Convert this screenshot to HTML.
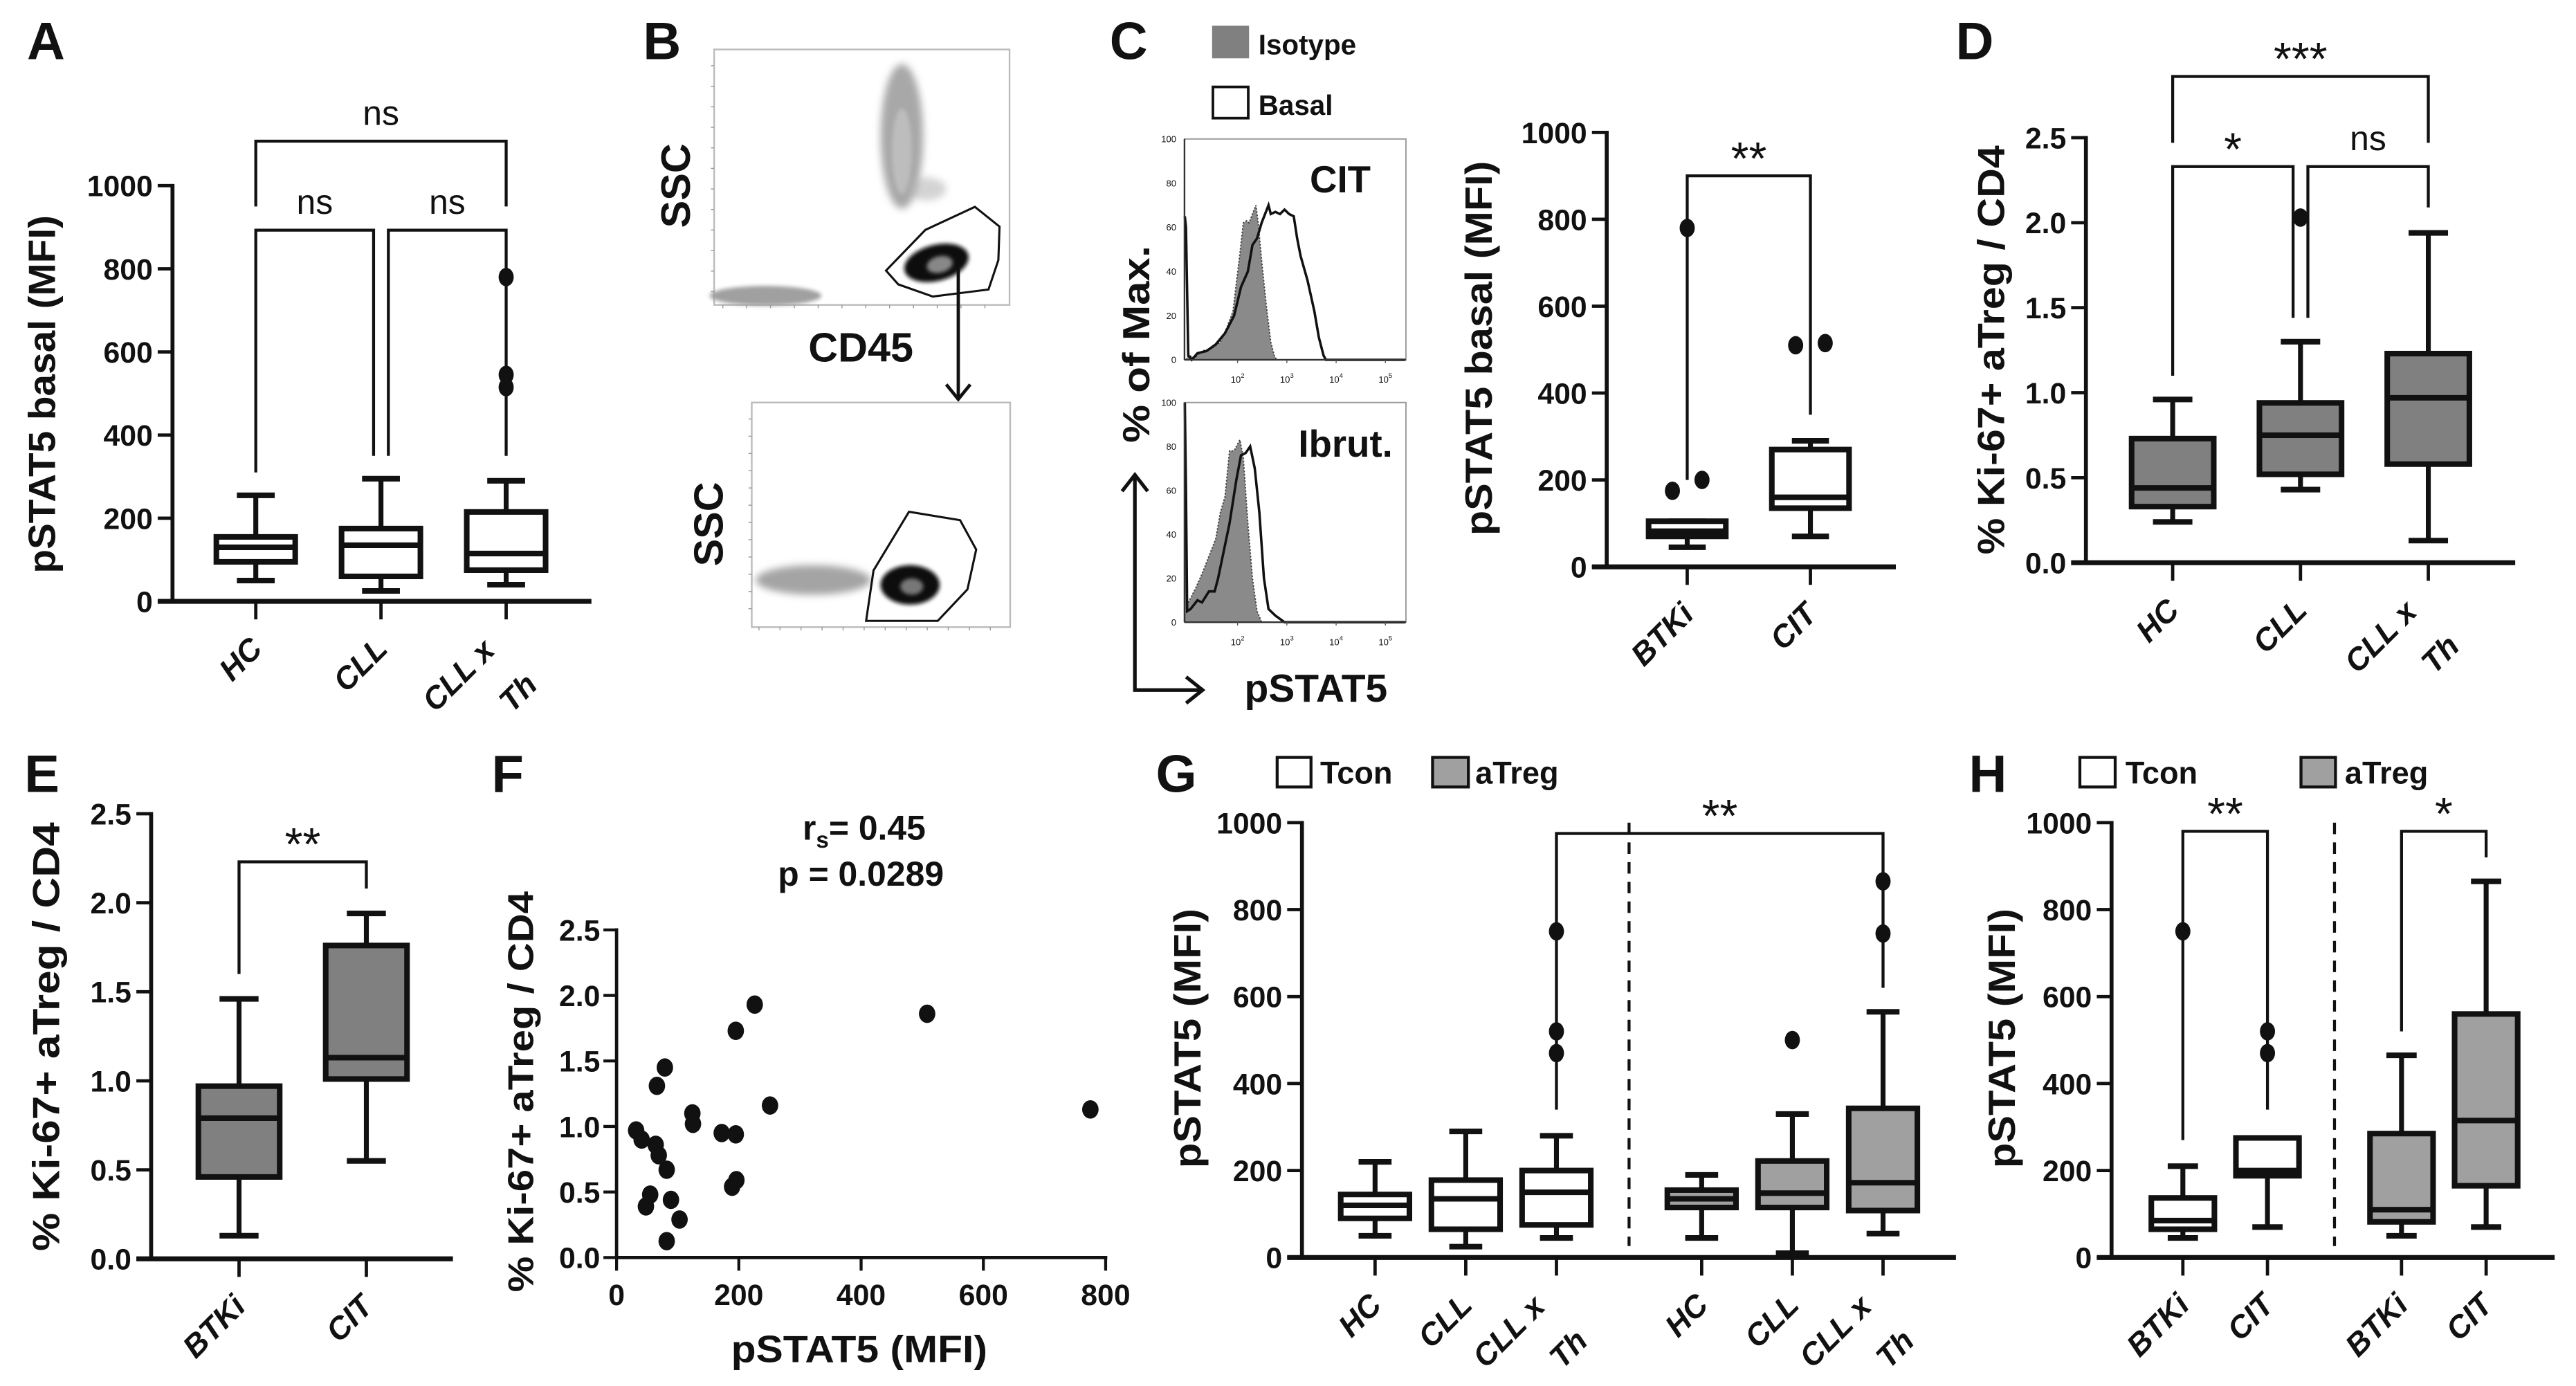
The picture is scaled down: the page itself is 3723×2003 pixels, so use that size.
<!DOCTYPE html>
<html><head><meta charset="utf-8"><title>pSTAT5 figure</title>
<style>
html,body{margin:0;padding:0;background:#fff;}
svg{display:block;}
text{font-family:"Liberation Sans",Arial,sans-serif;fill:#111;}
</style></head>
<body>
<svg id="fig" xmlns="http://www.w3.org/2000/svg" width="3723" height="2003" viewBox="0 0 1568 843.6" preserveAspectRatio="none">
<rect x="0" y="0" width="1568" height="843.6" fill="#fff"/>
</svg>
<script>
// ---------- Panel A data ----------
const aTicks=[0,200,400,600,800,1000];
const aCats=["HC","CLL","CLL x|Th"];
const aMin=[50,25,40];
const aQ1=[95,60,75];
const aMed=[130,135,115];
const aQ3=[155,175,215];
const aMax=[255,295,290];
const aOut=[[],[],[780,545,515]];
const aBrL=[0,0,1], aBrR=[2,1,2], aBrY=[1107,893,893], aBrLegL=[950,310,350], aBrLegR=[950,350,350], aBrTxt=["ns","ns","ns"];
// ---------- Panel C (bar) data ----------
const cTicks=[0,200,400,600,800,1000];
const cCats=["BTKi","CIT"];
const cMin=[45,70];
const cQ1=[70,135];
const cMed=[82,160];
const cQ3=[105,270];
const cMax=[105,290];
const cOut=[[780,175,200],[510,515]];
const cBrL=[0], cBrR=[1], cBrY=[900], cBrLegL=[200], cBrLegR=[350], cBrTxt=["**"];
// ---------- Panel C histograms (decade, % of max) ----------
const hTopIsoD=[0.953,1.0,1.14,1.279,1.465,1.651,1.791,1.907,1.977,2.047,2.116,2.186,2.233,2.302,2.372,2.419,2.488,2.581,2.674,2.744,2.791];
const hTopIsoP=[0,2,1,4,5,8,15,22,35,48,62,63,62,66,70,62,45,25,8,2,0];
const hTopBasD=[0.93,0.953,1.0,1.07,1.186,1.372,1.558,1.744,1.93,2.07,2.209,2.302,2.395,2.488,2.628,2.674,2.767,2.86,2.953,3.047,3.14,3.209,3.279,3.419,3.558,3.651,3.744,3.791,5.4];
const hTopBasP=[65,60,2,0,3,4,7,12,20,33,40,52,55,62,70,66,67,66,68,66,65,55,47,36,22,10,2,0,0];
const hBotIsoD=[0.93,0.953,0.977,1.14,1.279,1.419,1.558,1.651,1.744,1.837,1.93,2.047,2.116,2.209,2.302,2.395,2.488];
const hBotIsoP=[100,60,8,15,22,30,38,50,57,78,78,83,75,45,20,5,0];
const hBotBasD=[0.93,0.953,0.977,1.047,1.186,1.279,1.419,1.535,1.605,1.698,1.837,1.977,2.07,2.163,2.256,2.349,2.442,2.535,2.628,2.767,2.953,5.4];
const hBotBasP=[100,60,5,6,10,9,14,14,20,30,45,65,76,77,80,70,50,20,6,3,0,0];
const hYTicks=[0,20,40,60,80,100];
const hXTicks=[2,3,4,5];
// ---------- Panel D data ----------
const dTicks=[0,0.5,1.0,1.5,2.0,2.5];
const dCats=["HC","CLL","CLL x|Th"];
const dMin=[0.24,0.43,0.13];
const dQ1=[0.33,0.52,0.58];
const dMed=[0.44,0.75,0.97];
const dQ3=[0.73,0.94,1.23];
const dMax=[0.96,1.30,1.94];
const dOut=[[],[2.03],[]];
const dBrL=[0,0,1], dBrR=[2,1,2], dBrY=[2.86,2.33,2.33], dBrLegL=[2.47,1.10,1.44], dBrLegR=[2.47,1.44,2.09], dBrTxt=["***","*","ns"];
// ---------- Panel E data ----------
const eTicks=[0,0.5,1.0,1.5,2.0,2.5];
const eCats=["BTKi","CIT"];
const eMin=[0.13,0.55];
const eQ1=[0.46,1.01];
const eMed=[0.79,1.13];
const eQ3=[0.97,1.76];
const eMax=[1.46,1.94];
const eOut=[[],[]];
const eBrL=[0], eBrR=[1], eBrY=[2.23], eBrLegL=[1.6], eBrLegR=[2.08], eBrTxt=["**"];
// ---------- Panel F data ----------
const fXTicks=[0,200,400,600,800];
const fYTicks=[0,0.5,1.0,1.5,2.0,2.5];
const fX=[32,41,64,69,82,66,79,55,48,89,103,82,124,125,172,195,195,226,251,189,196,508,775];
const fY=[0.97,0.90,0.86,0.78,0.67,1.31,1.45,0.48,0.39,0.44,0.29,0.125,1.10,1.02,0.95,0.94,1.73,1.93,1.16,0.54,0.59,1.86,1.13];
// ---------- Panel G data ----------
const gTicks=[0,200,400,600,800,1000];
const gCats=["HC","CLL","CLL x|Th","HC","CLL","CLL x|Th"];
const gMin=[50,25,45,45,10,55];
const gQ1=[90,65,75,115,115,108];
const gMed=[120,135,150,135,148,172];
const gQ3=[145,178,200,155,222,343];
const gMax=[220,290,280,190,330,565];
const gOut=[[],[],[750,520,470],[],[500],[865,745]];
const gBrL=[2], gBrR=[5], gBrY=[975], gBrLegL=[340], gBrLegR=[620], gBrTxt=["**"];
// ---------- Panel H data ----------
const hTicks=[0,200,400,600,800,1000];
const hCats=["BTKi","CIT","BTKi","CIT"];
const hMin=[45,70,50,70];
const hQ1=[65,188,82,165];
const hMed=[85,200,110,315];
const hQ3=[137,275,285,560];
const hMax=[210,275,465,865];
const hOut=[[750],[520,470],[],[]];
const hBrL=[0,2], hBrR=[1,3], hBrY=[980,980], hBrLegL=[270,520], hBrLegR=[340,920], hBrTxt=["**","*"];

const NS="http://www.w3.org/2000/svg";
const svg=document.getElementById('fig');
function mk(parent,tag,attrs,name,inter){
  const el=document.createElementNS(NS,tag);
  for(const k in attrs) el.setAttribute(k,attrs[k]);
  
  
  parent.appendChild(el); return el;
}
function txt(parent,x,y,s,o,name){
  o=o||{};
  const a={x:x,y:y,'font-size':o.fs||18,'font-weight':o.fw||'bold','text-anchor':o.anchor||'start'};
  if(o.tr) a.transform=o.tr;
  if(o.len){a.textLength=o.len;a.lengthAdjust='spacingAndGlyphs';}
  if(o.style) a['font-style']=o.style;
  if(o.fill) a.fill=o.fill;
  const t=mk(parent,'text',a,name,false);
  t.textContent=s; return t;
}
function ylabel(parent,cx,cy,s,len,fs,name){
  txt(parent,0,0,s,{fs:fs||23,anchor:'middle',len:len,tr:'translate('+(cx+8)+','+cy+') rotate(-90)'},name);
}
function letter(s,x,y){ txt(svg,x,y,s,{fs:32,anchor:'middle'},'panel-label-'+s.toLowerCase()); }

function boxPanel(cfg){
  const g=mk(svg,'g',{},cfg.name,false);
  const span=cfg.vmax-cfg.vmin;
  const yv=v=>cfg.y0-(v-cfg.vmin)/span*(cfg.y0-cfg.ytop);
  const xp=i=>cfg.first+i*cfg.step+(cfg.split!==undefined&&i>=cfg.split?cfg.gap:0);
  mk(g,'line',{x1:cfg.ax,y1:cfg.y0,x2:cfg.ax,y2:yv(cfg.ticks[cfg.ticks.length-1])-1,stroke:'#111','stroke-width':2.4},'y-axis',false);
  mk(g,'line',{x1:cfg.ax-9,y1:cfg.y0,x2:cfg.xEnd,y2:cfg.y0,stroke:'#111','stroke-width':3},'x-axis',false);
  cfg.ticks.forEach(function(t){
    const y=yv(t);
    mk(g,'line',{x1:cfg.ax-9,y1:y,x2:cfg.ax,y2:y,stroke:'#111','stroke-width':2},'y-tick',false);
    txt(g,cfg.ax-12,y+6.5,cfg.dec?t.toFixed(1):String(t),{fs:18,anchor:'end'},'y-tick-label');
  });
  if(cfg.dash){
    const dx=(xp(cfg.split-1)+xp(cfg.split))/2;
    mk(g,'line',{x1:dx,y1:cfg.ytop,x2:dx,y2:cfg.y0-7,stroke:'#111','stroke-width':1.8,'stroke-dasharray':'7 5'},'group-separator',false);
  }
  const br=cfg.br;
  for(let k=0;k<br.L.length;k++){
    let xl=xp(br.L[k]), xr=xp(br.R[k]);
    for(let m=0;m<br.L.length;m++){ if(m===k) continue;
      if(br.Y[m]===br.Y[k]){ if(br.L[m]===br.R[k]) xr-=4.5; if(br.R[m]===br.L[k]) xl+=4.5; } }
    const yb=yv(br.Y[k]);
    mk(g,'polyline',{points:xl+','+yv(br.LL[k])+' '+xl+','+yb+' '+xr+','+yb+' '+xr+','+yv(br.LR[k]),fill:'none',stroke:'#111','stroke-width':1.8},'significance-bracket',false);
    const star=br.T[k].indexOf('*')>=0;
    txt(g,(xl+xr)/2,star?yb-1:yb-10,br.T[k],{fs:star?28:21,fw:'normal',anchor:'middle'},'significance-label');
  }
  for(let i=0;i<cfg.cats.length;i++){
    const x=xp(i), w=cfg.bw, cw=w*0.48;
    const fill=cfg.fills[i];
    mk(g,'line',{x1:x,y1:yv(cfg.min[i]),x2:x,y2:yv(cfg.max[i]),stroke:'#111','stroke-width':3},'whisker-'+i,false);
    mk(g,'line',{x1:x-cw/2,y1:yv(cfg.min[i]),x2:x+cw/2,y2:yv(cfg.min[i]),stroke:'#111','stroke-width':3.4},'whisker-cap-low',false);
    mk(g,'line',{x1:x-cw/2,y1:yv(cfg.max[i]),x2:x+cw/2,y2:yv(cfg.max[i]),stroke:'#111','stroke-width':3.4},'whisker-cap-high',false);
    mk(g,'rect',{x:x-w/2,y:yv(cfg.q3[i]),width:w,height:Math.max(0.5,yv(cfg.q1[i])-yv(cfg.q3[i])),fill:fill,stroke:'#111','stroke-width':3.4},'box-'+i,false);
    mk(g,'line',{x1:x-w/2,y1:yv(cfg.med[i]),x2:x+w/2,y2:yv(cfg.med[i]),stroke:'#111','stroke-width':3.4},'median-'+i,false);
    const o=cfg.out[i].slice().sort(function(a,b){return a-b;});
    const used=new Array(o.length).fill(false);
    for(let j=0;j<o.length;j++){
      let off=0;
      if(j+1<o.length && Math.abs(yv(o[j])-yv(o[j+1]))<7 && !used[j]){ off=-9; used[j+1]=true; }
      else if(used[j]) off=9;
      mk(g,'ellipse',{cx:x+off,cy:yv(o[j]),rx:4.6,ry:5.6,fill:'#111'},'outlier-point',false);
    }
    mk(g,'line',{x1:x,y1:cfg.y0,x2:x,y2:cfg.y0+11,stroke:'#111','stroke-width':2},'x-tick',false);
    const parts=cfg.cats[i].split('|');
    if(parts.length===1){
      txt(g,0,0,parts[0],{fs:19,anchor:'end',style:'italic',tr:'translate('+(x+5)+','+(cfg.y0+30)+') rotate(-45)'},'x-tick-label');
    } else {
      txt(g,0,0,parts[0],{fs:19,anchor:'end',style:'italic',tr:'translate('+(x-6)+','+(cfg.y0+31)+') rotate(-45)'},'x-tick-label');
      txt(g,0,0,parts[1],{fs:19,anchor:'end',style:'italic',tr:'translate('+(x+20)+','+(cfg.y0+52)+') rotate(-45)'},'x-tick-label-line2');
    }
  }
  return g;
}

// ---------- Panel A ----------
letter('A',28,36);
boxPanel({name:'panel-a-boxplot',ax:105,y0:366,ytop:113,vmin:0,vmax:1000,xEnd:360,first:155.7,step:76.2,bw:48,
  ticks:aTicks,cats:aCats,min:aMin,q1:aQ1,med:aMed,q3:aQ3,max:aMax,out:aOut,fills:['#fff','#fff','#fff'],
  br:{L:aBrL,R:aBrR,Y:aBrY,LL:aBrLegL,LR:aBrLegR,T:aBrTxt}});
ylabel(svg,25.5,240,'pSTAT5 basal (MFI)',218,23,'panel-a-y-axis-title');

// ---------- Panel B (flow plots) ----------
letter('B',403,36);
(function(){
  const g=mk(svg,'g',{},'panel-b-flow-plots',false);
  const defs=mk(g,'defs',{},'defs',false);
  const f=mk(defs,'filter',{id:'blur2',x:'-50%',y:'-50%',width:'200%',height:'200%'},'blur-filter',false);
  mk(f,'feGaussianBlur',{stdDeviation:2.2},'blur',false);
  const f2=mk(defs,'filter',{id:'blur1',x:'-50%',y:'-50%',width:'200%',height:'200%'},'blur-filter-small',false);
  mk(f2,'feGaussianBlur',{stdDeviation:1.2},'blur',false);
  mk(g,'rect',{x:434.7,y:30.1,width:179.8,height:155.5,fill:'#fff',stroke:'#bbb','stroke-width':1},'scatter-plot-top-frame',false);
  mk(g,'ellipse',{cx:549,cy:83,rx:13,ry:44,fill:'#a8a8a8',filter:'url(#blur2)'},'granulocyte-population',false);
  mk(g,'ellipse',{cx:549,cy:92,rx:6,ry:26,fill:'#bdbdbd',filter:'url(#blur1)'},'granulocyte-core',false);
  mk(g,'ellipse',{cx:564,cy:115,rx:12,ry:7,fill:'#b0b0b0',opacity:0.55,filter:'url(#blur2)'},'granulocyte-tail',false);
  mk(g,'ellipse',{cx:466,cy:180,rx:34,ry:6,fill:'#a0a0a0',filter:'url(#blur1)'},'debris-population',false);
  mk(g,'ellipse',{cx:570,cy:160,rx:20,ry:11,fill:'#111',transform:'rotate(-14 570 160)',filter:'url(#blur1)'},'lymphocyte-population',false);
  mk(g,'ellipse',{cx:572,cy:161,rx:8,ry:5,fill:'#888',transform:'rotate(-14 572 161)',filter:'url(#blur1)'},'lymphocyte-core',false);
  mk(g,'polygon',{points:'539.3,164.7 563.3,139.9 593.4,125.9 608.4,137.9 607.7,158.3 601.7,176.2 567.8,180.5 546.8,173.1',fill:'none',stroke:'#111','stroke-width':1.3},'cd45-gate',false);
  txt(g,0,0,'SSC',{fs:25,anchor:'middle',tr:'translate(420,113) rotate(-90)'},'ssc-axis-title-top');
  txt(g,524,220,'CD45',{fs:25,anchor:'middle'},'cd45-axis-title');
  mk(g,'line',{x1:583.3,y1:163,x2:583.3,y2:243,stroke:'#111','stroke-width':2},'gating-arrow',false);
  mk(g,'polyline',{points:'576,234 583.3,243 590.6,234',fill:'none',stroke:'#111','stroke-width':2},'gating-arrow-head',false);
  mk(g,'rect',{x:457.6,y:245,width:157.3,height:136.7,fill:'#fff',stroke:'#bbb','stroke-width':1},'scatter-plot-bottom-frame',false);
  mk(g,'ellipse',{cx:495,cy:353,rx:35,ry:9,fill:'#a4a4a4',filter:'url(#blur2)'},'non-lymphocyte-population',false);
  mk(g,'ellipse',{cx:554,cy:356,rx:18,ry:12,fill:'#111',filter:'url(#blur1)'},'gated-lymphocytes',false);
  mk(g,'ellipse',{cx:555,cy:357,rx:7,ry:5,fill:'#777',filter:'url(#blur1)'},'gated-lymphocytes-core',false);
  mk(g,'polygon',{points:'527.2,377.9 531.7,347.2 553.3,311.5 584.4,316.6 594.2,334.5 588.9,358.7 570.8,377.9',fill:'none',stroke:'#111','stroke-width':1.3},'lymphocyte-gate',false);
  txt(g,0,0,'SSC',{fs:25,anchor:'middle',tr:'translate(440,319) rotate(-90)'},'ssc-axis-title-bottom');
  for(let k=0;k<12;k++){
    mk(g,'line',{x1:434.7-2,y1:40+k*12.5,x2:434.7,y2:40+k*12.5,stroke:'#999','stroke-width':0.6},'minor-tick',false);
    mk(g,'line',{x1:457.6-2,y1:255+k*10.5,x2:457.6,y2:255+k*10.5,stroke:'#999','stroke-width':0.6},'minor-tick',false);
    mk(g,'line',{x1:440+k*14.5,y1:185.6,x2:440+k*14.5,y2:187.6,stroke:'#999','stroke-width':0.6},'minor-tick',false);
    mk(g,'line',{x1:462+k*12.8,y1:381.7,x2:462+k*12.8,y2:383.7,stroke:'#999','stroke-width':0.6},'minor-tick',false);
  }
})();

// ---------- Panel C histograms ----------
letter('C',687,36);
(function(){
  const g=mk(svg,'g',{},'panel-c-histograms',false);
  mk(g,'rect',{x:737.8,y:15.6,width:22.5,height:19.9,fill:'#808080'},'legend-swatch-isotype',false);
  txt(g,766,33,'Isotype',{fs:17},'legend-label-isotype');
  mk(g,'rect',{x:738.3,y:52.9,width:21.5,height:19,fill:'#fff',stroke:'#111','stroke-width':1.6},'legend-swatch-basal',false);
  txt(g,766,70,'Basal',{fs:17},'legend-label-basal');
  const xd=d=>753.3+(d-2)*30;
  function hist(top,bot,isoD,isoP,basD,basP,lbl,lx,ly,nm){
    const yp=p=>bot-p/100*(bot-top);
    mk(g,'rect',{x:721,y:top,width:134.8,height:bot-top,fill:'#fff',stroke:'#999','stroke-width':0.8},nm+'-frame',false);
    let d='M'+xd(isoD[0])+','+yp(0);
    for(let i=0;i<isoD.length;i++) d+=' L'+xd(isoD[i]).toFixed(2)+','+yp(isoP[i]).toFixed(2);
    d+=' L'+xd(isoD[isoD.length-1])+','+yp(0)+' Z';
    mk(g,'path',{d:d,fill:'#8a8a8a',stroke:'#444','stroke-width':0.8,'stroke-dasharray':'1 1'},nm+'-isotype-area',false);
    let pts='';
    for(let i=0;i<basD.length;i++) pts+=xd(basD[i]).toFixed(2)+','+yp(basP[i]).toFixed(2)+' ';
    mk(g,'polyline',{points:pts,fill:'none',stroke:'#111','stroke-width':1.5},nm+'-basal-line',false);
    mk(g,'line',{x1:721,y1:bot,x2:855.8,y2:bot,stroke:'#333','stroke-width':1},nm+'-x-axis',false);
    mk(g,'line',{x1:721,y1:top,x2:721,y2:bot,stroke:'#333','stroke-width':1},nm+'-y-axis',false);
    hYTicks.forEach(function(t){
      txt(g,716,yp(t)+2,String(t),{fs:5.5,fw:'normal',anchor:'end',fill:'#444'},nm+'-y-tick-label');
    });
    hXTicks.forEach(function(t){
      const t1=txt(g,xd(t),bot+14,'10',{fs:5.5,fw:'normal',anchor:'middle',fill:'#444'},nm+'-x-tick-label');
      const s=document.createElementNS(NS,'tspan'); s.setAttribute('dy','-3'); s.setAttribute('font-size','4'); s.textContent=String(t); t1.appendChild(s);
      mk(g,'line',{x1:xd(t),y1:bot,x2:xd(t),y2:bot+2,stroke:'#555','stroke-width':0.6},nm+'-x-tick',false);
    });
    txt(g,lx,ly,lbl,{fs:23,anchor:'middle'},nm+'-label');
  }
  hist(84.6,219,hTopIsoD,hTopIsoP,hTopBasD,hTopBasP,'CIT',815.8,117,'histogram-cit');
  hist(245,378.7,hBotIsoD,hBotIsoP,hBotBasD,hBotBasP,'Ibrut.',819,278,'histogram-ibrut');
  ylabel(g,691.5,209.5,'% of Max.',120,23,'percent-of-max-axis-title');
  mk(g,'polyline',{points:'690.8,289 690.8,420 732,420',fill:'none',stroke:'#111','stroke-width':2.2},'axis-arrows',false);
  mk(g,'polyline',{points:'683,299 690.8,289 698.6,299',fill:'none',stroke:'#111','stroke-width':2.2},'y-arrow-head',false);
  mk(g,'polyline',{points:'722,412 732,420 722,428',fill:'none',stroke:'#111','stroke-width':2.2},'x-arrow-head',false);
  txt(g,801,427,'pSTAT5',{fs:24,anchor:'middle'},'pstat5-axis-title');
})();

// ---------- Panel C boxplot ----------
boxPanel({name:'panel-c-boxplot',ax:978,y0:345,ytop:80.6,vmin:0,vmax:1000,xEnd:1154,first:1027,step:75,bw:47,
  ticks:cTicks,cats:cCats,min:cMin,q1:cQ1,med:cMed,q3:cQ3,max:cMax,out:cOut,fills:['#fff','#fff'],
  br:{L:cBrL,R:cBrR,Y:cBrY,LL:cBrLegL,LR:cBrLegR,T:cBrTxt}});
ylabel(svg,900,212,'pSTAT5 basal (MFI)',228,23,'panel-c-y-axis-title');

// ---------- Panel D ----------
letter('D',1202,36);
boxPanel({name:'panel-d-boxplot',ax:1269.7,y0:342.5,ytop:83.8,vmin:0,vmax:2.5,xEnd:1531,first:1322.5,step:77.8,bw:50,dec:true,
  ticks:dTicks,cats:dCats,min:dMin,q1:dQ1,med:dMed,q3:dQ3,max:dMax,out:dOut,fills:['#808080','#808080','#808080'],
  br:{L:dBrL,R:dBrR,Y:dBrY,LL:dBrLegL,LR:dBrLegR,T:dBrTxt}});
ylabel(svg,1212,213,'% Ki-67+ aTreg / CD4',249,23,'panel-d-y-axis-title');

// ---------- Panel E ----------
letter('E',25.5,482);
boxPanel({name:'panel-e-boxplot',ax:92,y0:766.2,ytop:495.3,vmin:0,vmax:2.5,xEnd:275.7,first:145.5,step:77.5,bw:49.5,dec:true,
  ticks:eTicks,cats:eCats,min:eMin,q1:eQ1,med:eMed,q3:eQ3,max:eMax,out:eOut,fills:['#808080','#808080'],
  br:{L:eBrL,R:eBrR,Y:eBrY,LL:eBrLegL,LR:eBrLegR,T:eBrTxt}});
ylabel(svg,28,631,'% Ki-67+ aTreg / CD4',261,23,'panel-e-y-axis-title');

// ---------- Panel F ----------
letter('F',309,482);
(function(){
  const g=mk(svg,'g',{},'panel-f-scatter',false);
  const ax=375.3, y0=765.4, ytop=566, x800=673;
  const xv=v=>ax+v/800*(x800-ax);
  const yv=v=>y0-v/2.5*(y0-ytop);
  mk(g,'line',{x1:ax,y1:y0,x2:ax,y2:ytop-1,stroke:'#111','stroke-width':2},'y-axis',false);
  mk(g,'line',{x1:ax,y1:y0,x2:x800+1,y2:y0,stroke:'#111','stroke-width':2},'x-axis',false);
  fYTicks.forEach(function(t){
    mk(g,'line',{x1:ax-8,y1:yv(t),x2:ax,y2:yv(t),stroke:'#111','stroke-width':1.8},'y-tick',false);
    txt(g,ax-10,yv(t)+6.5,t.toFixed(1),{fs:18,anchor:'end'},'y-tick-label');
  });
  fXTicks.forEach(function(t){
    mk(g,'line',{x1:xv(t),y1:y0,x2:xv(t),y2:y0+8,stroke:'#111','stroke-width':1.8},'x-tick',false);
    txt(g,xv(t),y0+29,String(t),{fs:18,anchor:'middle'},'x-tick-label');
  });
  for(let i=0;i<fX.length;i++){
    mk(g,'ellipse',{cx:xv(fX[i]),cy:yv(fY[i]),rx:5,ry:5.6,fill:'#111'},'scatter-point',false);
  }
  const t=txt(g,526,511,'r',{fs:21,anchor:'middle'},'spearman-r-label');
  const s1=document.createElementNS(NS,'tspan'); s1.setAttribute('font-size','14'); s1.setAttribute('dy','5'); s1.textContent='s'; t.appendChild(s1);
  const s2=document.createElementNS(NS,'tspan'); s2.setAttribute('dy','-5'); s2.textContent='= 0.45'; t.appendChild(s2);
  txt(g,524,539,'p = 0.0289',{fs:21,anchor:'middle'},'p-value-label');
  txt(g,523,829,'pSTAT5 (MFI)',{fs:23,anchor:'middle',len:156},'x-axis-title');
  ylabel(g,316.6,664.5,'% Ki-67+ aTreg / CD4',244,22,'y-axis-title');
})();

// ---------- Panel G ----------
letter('G',716,482);
(function(){
  mk(svg,'rect',{x:777.4,y:461,width:20.6,height:18,fill:'#fff',stroke:'#111','stroke-width':1.8},'legend-swatch-tcon-g',false);
  txt(svg,803.6,477,'Tcon',{fs:19},'legend-label-tcon-g');
  mk(svg,'rect',{x:872,y:461,width:21.8,height:18,fill:'#a0a0a0',stroke:'#111','stroke-width':1.8},'legend-swatch-atreg-g',false);
  txt(svg,898,477,'aTreg',{fs:19},'legend-label-atreg-g');
})();
boxPanel({name:'panel-g-boxplot',ax:792.5,y0:765.4,ytop:500.7,vmin:0,vmax:1000,xEnd:1190.6,first:837,step:55.2,gap:33.2,split:3,dash:true,bw:41.8,
  ticks:gTicks,cats:gCats,min:gMin,q1:gQ1,med:gMed,q3:gQ3,max:gMax,out:gOut,fills:['#fff','#fff','#fff','#a0a0a0','#a0a0a0','#a0a0a0'],
  br:{L:gBrL,R:gBrR,Y:gBrY,LL:gBrLegL,LR:gBrLegR,T:gBrTxt}});
ylabel(svg,722.8,632,'pSTAT5 (MFI)',158,23,'panel-g-y-axis-title');

// ---------- Panel H ----------
letter('H',1210,482);
(function(){
  mk(svg,'rect',{x:1266,y:461,width:21.5,height:18,fill:'#fff',stroke:'#111','stroke-width':1.8},'legend-swatch-tcon-h',false);
  txt(svg,1293.7,477,'Tcon',{fs:19},'legend-label-tcon-h');
  mk(svg,'rect',{x:1400.6,y:461,width:21,height:18,fill:'#a0a0a0',stroke:'#111','stroke-width':1.8},'legend-swatch-atreg-h',false);
  txt(svg,1427.3,477,'aTreg',{fs:19},'legend-label-atreg-h');
})();
boxPanel({name:'panel-h-boxplot',ax:1285.3,y0:765.4,ytop:500.7,vmin:0,vmax:1000,xEnd:1555,first:1328.7,step:51.5,gap:30.1,split:2,dash:true,bw:38.4,
  ticks:hTicks,cats:hCats,min:hMin,q1:hQ1,med:hMed,q3:hQ3,max:hMax,out:hOut,fills:['#fff','#fff','#a0a0a0','#a0a0a0'],
  br:{L:hBrL,R:hBrR,Y:hBrY,LL:hBrLegL,LR:hBrLegR,T:hBrTxt}});
ylabel(svg,1218.5,632,'pSTAT5 (MFI)',158,23,'panel-h-y-axis-title');
</script>
</body></html>
